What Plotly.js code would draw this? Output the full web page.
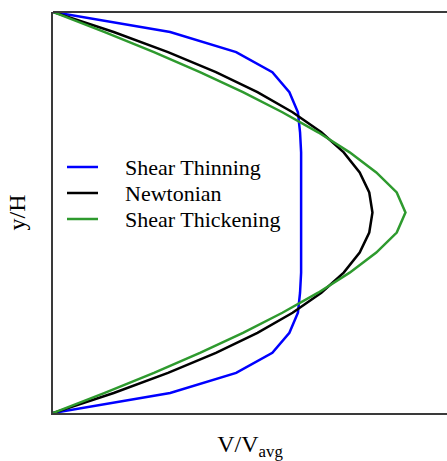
<!DOCTYPE html>
<html>
<head>
<meta charset="utf-8">
<script src="https://cdn.plot.ly/plotly-3.0.1.min.js"></script>
<style>html,body{margin:0;padding:0;overflow:hidden;background:#fff;}</style>
</head>
<body>
<div id="chart" style="width:447px;height:461px;"></div>
<script>
// y/H positions (shared by all series)
const yH = [0,0.05,0.1,0.15,0.2,0.25,0.3,0.35,0.4,0.45,0.5,0.55,0.6,0.65,0.7,0.75,0.8,0.85,0.9,0.95,1];
// V/Vavg
const shearThinning = [0,0.55,0.86,1.03,1.11,1.15,1.16,1.165,1.165,1.165,1.165,1.165,1.165,1.165,1.16,1.15,1.11,1.03,0.86,0.55,0];
const newtonian     = [0,0.285,0.54,0.765,0.96,1.125,1.26,1.365,1.44,1.485,1.5,1.485,1.44,1.365,1.26,1.125,0.96,0.765,0.54,0.285,0];
const shearThick    = [0,0.243,0.474,0.69,0.892,1.077,1.245,1.393,1.518,1.614,1.655,1.614,1.518,1.393,1.245,1.077,0.892,0.69,0.474,0.243,0];
const names = ["Shear Thinning","Newtonian","Shear Thickening"];
const colors = ["#0000ff","#000000","#2e9a2e"];
const series = [shearThinning, newtonian, shearThick];

const FONT = "Liberation Serif, Times New Roman, serif";
const traces = series.map((s,i)=>({
  x: s, y: yH, type:"scatter", mode:"lines", name: names[i],
  line:{color:colors[i], width:2.5}, showlegend:false
}));

// legend drawn in paper coordinates (plot area: 394 x 401 px)
const W = 394, H = 401;
const legShapes = [], legAnn = [];
names.forEach((n,i)=>{
  const yc = 1 - (155 + 26*i)/H;   // row centre (px from top of plot area)
  legShapes.push({type:"line", xref:"paper", yref:"paper", x0:14/W, x1:45/W, y0:yc, y1:yc,
                  line:{color:colors[i], width:2.5}});
  legAnn.push({xref:"paper", yref:"paper", x:70/W, y:yc, xanchor:"left", yanchor:"middle",
               text:n, showarrow:false, font:{family:FONT, size:22, color:"#000"}});
});

const axisCommon = {showgrid:false, zeroline:false, showticklabels:false, ticks:"", showline:true, linecolor:"#3a3a3a", linewidth:2};

const layout = {
  width:447, height:461,
  margin:{l:53, r:0, t:12, b:48},
  paper_bgcolor:"#fff", plot_bgcolor:"#fff",
  font:{family:FONT, color:"#000", size:22},
  showlegend:false,
  xaxis: Object.assign({}, axisCommon, {range:[0,1.85], title:{text:"V/V<sub>avg</sub>", font:{family:FONT, size:24}, standoff:26}}),
  yaxis: Object.assign({}, axisCommon, {range:[0,1], title:{text:"y/H", font:{family:FONT, size:24}, standoff:19}}),
  shapes:[{type:"line", xref:"paper", yref:"paper", x0:0, x1:1, y0:1, y1:1, line:{color:"#3a3a3a", width:2}}].concat(legShapes),
  annotations: legAnn
};

Plotly.newPlot("chart", traces, layout, {displayModeBar:false, staticPlot:true});
</script>
</body>
</html>
